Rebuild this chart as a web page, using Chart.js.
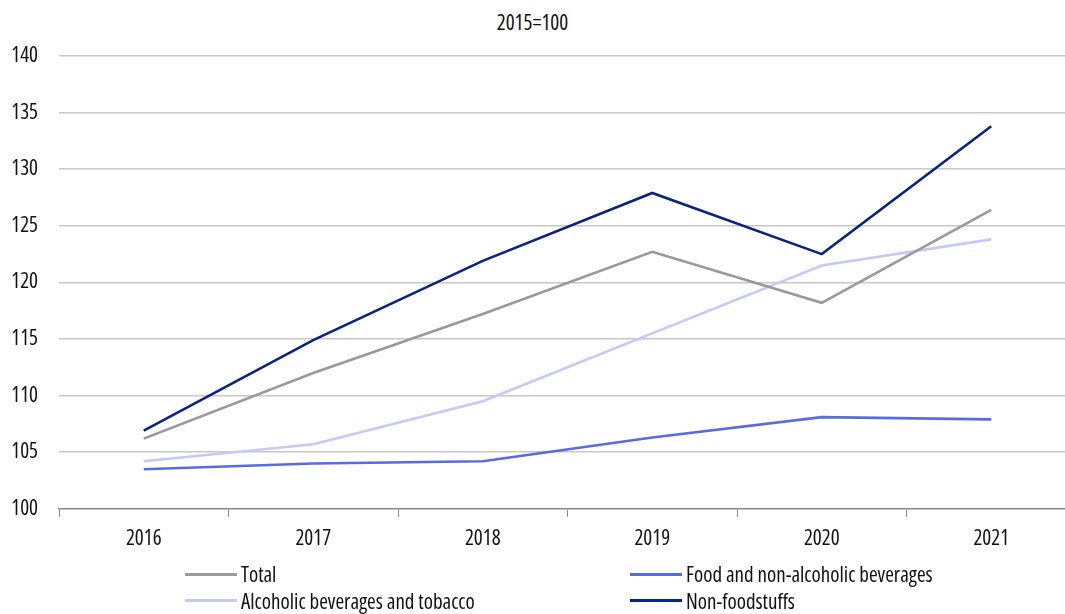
<!DOCTYPE html>
<html>
<head>
<meta charset="utf-8">
<script src="https://cdn.jsdelivr.net/npm/chart.js@4/dist/chart.umd.min.js"></script>
<style>
    html, body { margin: 0; padding: 0; background: #fff; overflow: hidden; }
    body { width: 1065px; height: 614px; position: relative; font-family: 'Open Sans', sans-serif; font-stretch: condensed; color: #111; }
    #title { position: absolute; top: 8px; left: 0; width: 1065px; text-align: center; font-size: 21px; }
    #wrap { position: absolute; top: 0; left: 0; width: 1076px; height: 562px; }
    #legend { position: absolute; top: 561px; left: 185px; width: 880px; display: grid; grid-template-columns: 445px 400px; font-size: 21px; }
    .item { display: flex; align-items: center; height: 26.5px; }
    .swatch { width: 52px; height: 3px; margin-right: 4px; }
</style>
</head>
<body>
<div id="title">2015=100</div>
<div id="wrap"><canvas id="chart"></canvas></div>
<div id="legend"></div>
<script>
const years = ['2016', '2017', '2018', '2019', '2020', '2021']

const total = [106.2, 112.0, 117.2, 122.7, 118.2, 126.4]
const foodBeverages = [103.5, 104.0, 104.2, 106.3, 108.1, 107.9]
const alcoholTobacco = [104.2, 105.7, 109.5, 115.5, 121.5, 123.8]
const nonFoodstuffs = [106.9, 114.9, 121.9, 127.9, 122.5, 133.8]

const seriesNames = ['Total', 'Food and non-alcoholic beverages', 'Alcoholic beverages and tobacco', 'Non-foodstuffs']
const seriesColors = ['#999999', '#5a6ae0', '#c3cbf5', '#0b2380']

const yMin = 100
const yMax = 140
const yStep = 5

// the "weight" slot carries the stretch keyword into the canvas font string
const tickFont = { family: "'Open Sans', sans-serif", size: 21, weight: 'condensed' }

const makeDataset = (i, data) => ({
    label: seriesNames[i],
    data,
    borderColor: seriesColors[i],
    backgroundColor: seriesColors[i],
    borderWidth: 2.6,
    pointRadius: 0,
    tension: 0,
    fill: false
})

const chart = new Chart(document.getElementById('chart'), {
    type: 'line',
    data: {
        labels: years,
        datasets: [
            makeDataset(0, total),
            makeDataset(1, foodBeverages),
            makeDataset(2, alcoholTobacco),
            makeDataset(3, nonFoodstuffs)
        ]
    },
    options: {
        responsive: true,
        maintainAspectRatio: false,
        animation: false,
        layout: { padding: { top: 56, left: 0, right: 0, bottom: 0 } },
        plugins: {
            legend: { display: false },
            tooltip: { enabled: false }
        },
        scales: {
            x: {
                offset: true,
                grid: {
                    offset: true,
                    drawOnChartArea: false,
                    drawTicks: true,
                    tickLength: 8,
                    color: '#888888'
                },
                border: { color: '#888888', width: 1.5 },
                ticks: {
                    color: '#111',
                    padding: 10,
                    font: tickFont
                }
            },
            y: {
                min: yMin,
                max: yMax,
                afterFit: scale => { scale.width = 59 },
                grid: {
                    drawTicks: false,
                    tickLength: 0,
                    color: ctx => (ctx.tick && ctx.tick.value === yMin ? 'rgba(0,0,0,0)' : '#c8c8c8'),
                    lineWidth: 1.5
                },
                border: { display: false },
                ticks: {
                    stepSize: yStep,
                    padding: 21,
                    color: '#111',
                    font: tickFont
                }
            }
        }
    }
})

// two-column legend under the plot, taken from the datasets
const legendEl = document.getElementById('legend')
chart.data.datasets.forEach(ds => {
    const item = document.createElement('div')
    item.className = 'item'
    const sw = document.createElement('span')
    sw.className = 'swatch'
    sw.style.background = ds.borderColor
    const txt = document.createElement('span')
    txt.textContent = ds.label
    item.appendChild(sw)
    item.appendChild(txt)
    legendEl.appendChild(item)
})
</script>
</body>
</html>
